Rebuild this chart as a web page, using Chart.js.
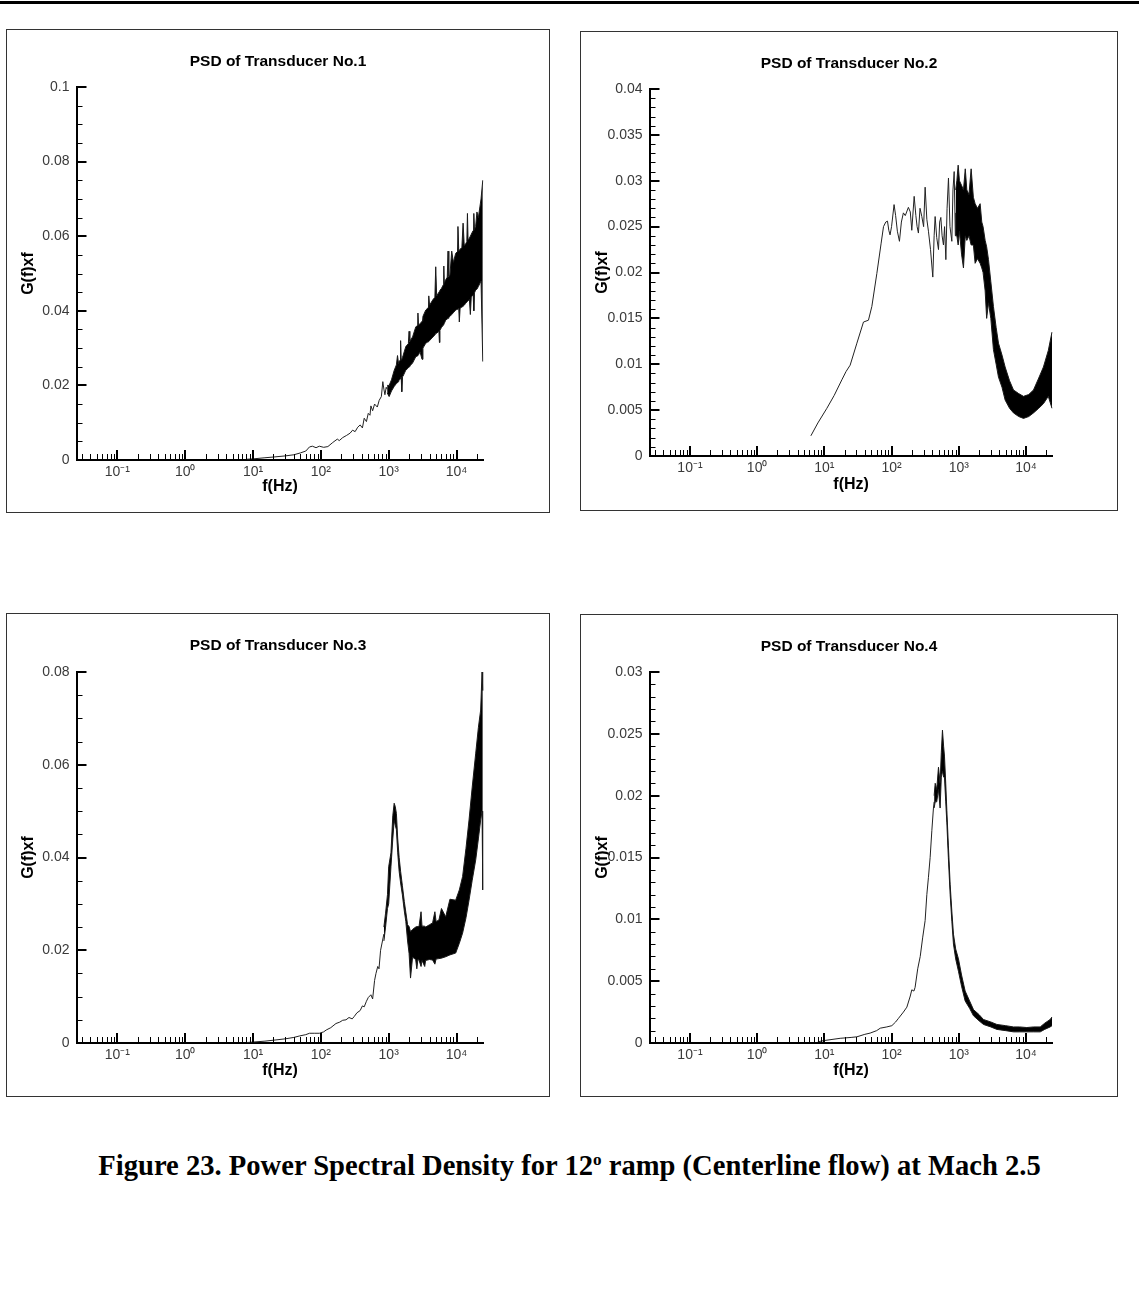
<!DOCTYPE html>
<html>
<head>
<meta charset="utf-8">
<script src="https://cdn.jsdelivr.net/npm/chart.js@4.4.1/dist/chart.umd.min.js"></script>
<style>
html,body{margin:0;padding:0;background:#fff;}
body{width:1139px;height:1289px;position:relative;overflow:hidden;font-family:'Liberation Sans',Arial,sans-serif;}
.topline{position:absolute;left:0;top:1px;width:1139px;height:3px;background:#000;}
.frame{position:absolute;border:1px solid #333;box-sizing:border-box;pointer-events:none;}
canvas{position:absolute;}
.caption{position:absolute;left:0;width:1139px;top:1150px;text-align:center;font-family:'Liberation Serif','Times New Roman',serif;font-weight:bold;font-size:28.6px;color:#000;white-space:nowrap;}
.caption sup{font-size:0.6em;vertical-align:0.6em;line-height:0;}
</style>
</head>
<body>
<div class="topline"></div>
<div class="caption">Figure 23. Power Spectral Density for 12<sup>o</sup> ramp (Centerline flow) at Mach 2.5</div>
<script>
// ---------- shared axis data ----------
const xTickValues = [0.1, 1, 10, 100, 1000, 10000];
const xTickLabels = ['10\u207B\u00B9', '10\u2070', '10\u00B9', '10\u00B2', '10\u00B3', '10\u2074'];
const xMin = 0.025, xMax = 25000;
const panelTitles = ['PSD of Transducer No.1', 'PSD of Transducer No.2', 'PSD of Transducer No.3', 'PSD of Transducer No.4'];
const xAxisTitle = 'f(Hz)';
const yAxisTitle = 'G(f)xf';

// ---------- Transducer No.1 ----------
const p1YTicks = [0, 0.02, 0.04, 0.06, 0.08, 0.1];
const p1Freq = [8, 10, 15, 20, 30, 40, 50, 60, 68, 75, 85, 95, 110, 127, 150, 175, 187, 210, 240, 270, 294, 320, 350, 380, 410, 436, 470, 500, 530, 547, 580, 620, 680, 725, 780, 820, 850, 880, 920, 950];
const p1Val  = [0.0002, 0.0003, 0.0006, 0.0008, 0.0011, 0.0014, 0.0019, 0.0024, 0.0035, 0.0037, 0.0033, 0.0037, 0.0034, 0.0036, 0.0047, 0.0056, 0.0052, 0.0060, 0.0066, 0.0072, 0.0080, 0.0076, 0.0088, 0.0094, 0.0086, 0.0112, 0.0103, 0.0125, 0.0120, 0.0145, 0.0132, 0.0150, 0.0142, 0.0160, 0.0170, 0.0210, 0.0190, 0.0175, 0.0195, 0.0190];
const p1BandFreq = [950, 1016, 1100, 1205, 1300, 1350, 1400, 1427, 1470, 1500, 1530, 1560, 1600, 1630, 1790, 1950, 2000, 2050, 2250, 2512, 2650, 2700, 2750, 2900, 3100, 3200, 3520, 3800, 3900, 4000, 4500, 4800, 4940, 5100, 5500, 5600, 5700, 6000, 6400, 6500, 6600, 6930, 7300, 7500, 7700, 8000, 8500, 9000, 9730, 10200, 10500, 10800, 11000, 11300, 12000, 12500, 13000, 13650, 14200, 14500, 14800, 15500, 16000, 16500, 17000, 17600, 18000, 18400, 19150, 20000, 21000, 23000, 24400];
const p1BandLo   = [0.0180, 0.0170, 0.0185, 0.0197, 0.0205, 0.0207, 0.0210, 0.0215, 0.0217, 0.0220, 0.0222, 0.0183, 0.0223, 0.0225, 0.0241, 0.0247, 0.0250, 0.0252, 0.0260, 0.0277, 0.0279, 0.0280, 0.0282, 0.0290, 0.0270, 0.0300, 0.0313, 0.0317, 0.0318, 0.0320, 0.0330, 0.0335, 0.0339, 0.0340, 0.0345, 0.0315, 0.0348, 0.0355, 0.0362, 0.0364, 0.0366, 0.0375, 0.0378, 0.0380, 0.0382, 0.0385, 0.0390, 0.0395, 0.0402, 0.0404, 0.0405, 0.0406, 0.0370, 0.0407, 0.0410, 0.0412, 0.0415, 0.0420, 0.0423, 0.0425, 0.0427, 0.0430, 0.0390, 0.0437, 0.0440, 0.0443, 0.0400, 0.0448, 0.0456, 0.0458, 0.0465, 0.0480, 0.0264];
const p1BandHi   = [0.0200, 0.0200, 0.0215, 0.0240, 0.0255, 0.0280, 0.0258, 0.0265, 0.0267, 0.0320, 0.0268, 0.0270, 0.0275, 0.0280, 0.0304, 0.0312, 0.0345, 0.0318, 0.0330, 0.0357, 0.0360, 0.0394, 0.0362, 0.0365, 0.0372, 0.0385, 0.0402, 0.0408, 0.0440, 0.0415, 0.0430, 0.0436, 0.0518, 0.0440, 0.0450, 0.0452, 0.0455, 0.0460, 0.0470, 0.0520, 0.0474, 0.0483, 0.0490, 0.0560, 0.0492, 0.0495, 0.0560, 0.0530, 0.0554, 0.0558, 0.0626, 0.0560, 0.0562, 0.0565, 0.0570, 0.0635, 0.0575, 0.0580, 0.0585, 0.0661, 0.0590, 0.0595, 0.0600, 0.0605, 0.0610, 0.0615, 0.0661, 0.0618, 0.0626, 0.0665, 0.0650, 0.0700, 0.0750];

// ---------- Transducer No.2 ----------
const p2YTicks = [0, 0.005, 0.01, 0.015, 0.02, 0.025, 0.03, 0.035, 0.04];
const p2Freq = [6.3, 8, 10.9, 14, 18.2, 21, 24.2, 30.5, 38.2, 45.3, 50.9, 60.4, 70, 75.9, 82, 87, 91, 95, 100, 109, 115, 122, 131, 140, 150, 160, 178, 190, 200, 217, 230, 240, 251, 265, 282, 300, 316, 335, 354, 380, 411, 430, 445, 470, 499, 520, 541, 565, 592, 615, 643, 670, 703, 740, 789, 820, 855, 890, 900];
const p2Val  = [0.0022, 0.0036, 0.0052, 0.0066, 0.0083, 0.0092, 0.0099, 0.0123, 0.0146, 0.0148, 0.0163, 0.0199, 0.0232, 0.0250, 0.0255, 0.0256, 0.0246, 0.0241, 0.0250, 0.0274, 0.0262, 0.0245, 0.0234, 0.0255, 0.0265, 0.0262, 0.0271, 0.0266, 0.0246, 0.0283, 0.0262, 0.0250, 0.0243, 0.0270, 0.0261, 0.0250, 0.0293, 0.0258, 0.0245, 0.0225, 0.0195, 0.0240, 0.0261, 0.0238, 0.0225, 0.0255, 0.0260, 0.0240, 0.0230, 0.0250, 0.0214, 0.0270, 0.0303, 0.0250, 0.0234, 0.0290, 0.0310, 0.0240, 0.0265];
const p2BandFreq = [900, 937, 980, 1024, 1100, 1175, 1250, 1318, 1420, 1528, 1650, 1753, 1900, 2080, 2200, 2300, 2470, 2600, 2770, 3000, 3280, 3600, 3900, 4400, 4900, 5700, 6520, 7800, 9190, 11000, 12950, 15500, 18200, 21500, 24400];
const p2BandLo   = [0.0240, 0.0240, 0.0230, 0.0245, 0.0220, 0.0205, 0.0240, 0.0235, 0.0240, 0.0230, 0.0230, 0.0210, 0.0215, 0.0210, 0.0205, 0.0200, 0.0180, 0.0150, 0.0167, 0.0150, 0.0116, 0.0100, 0.0086, 0.0075, 0.0061, 0.0052, 0.0047, 0.0043, 0.0041, 0.0043, 0.0047, 0.0052, 0.0057, 0.0065, 0.0052];
const p2BandHi   = [0.0290, 0.0300, 0.0317, 0.0300, 0.0295, 0.0290, 0.0313, 0.0290, 0.0285, 0.0313, 0.0282, 0.0275, 0.0270, 0.0275, 0.0255, 0.0250, 0.0235, 0.0228, 0.0214, 0.0190, 0.0163, 0.0140, 0.0123, 0.0110, 0.0097, 0.0082, 0.0072, 0.0068, 0.0065, 0.0067, 0.0072, 0.0085, 0.0097, 0.0115, 0.0135];

// ---------- Transducer No.3 ----------
const p3YTicks = [0, 0.02, 0.04, 0.06, 0.08];
const p3Freq = [8, 10, 15, 20, 30, 40, 48, 60, 68, 80, 95, 110, 120, 140, 167, 190, 210, 235, 260, 290, 310, 340, 380, 410, 436, 470, 500, 547, 580, 620, 650, 690, 720, 760, 815, 850];
const p3Val  = [0.0001, 0.0002, 0.0004, 0.0006, 0.0009, 0.0012, 0.0015, 0.0018, 0.0021, 0.0021, 0.0021, 0.0024, 0.0028, 0.0033, 0.0042, 0.0045, 0.0049, 0.0050, 0.0055, 0.0052, 0.0057, 0.0065, 0.0070, 0.0080, 0.0078, 0.0090, 0.0098, 0.0104, 0.0095, 0.0135, 0.0150, 0.0165, 0.0160, 0.0200, 0.0222, 0.0235];
const p3BandFreq = [850, 900, 960, 1000, 1080, 1150, 1205, 1250, 1300, 1360, 1427, 1500, 1590, 1700, 1790, 1900, 2000, 2100, 2250, 2500, 2600, 2700, 2800, 3000, 3100, 3400, 3500, 4000, 4440, 4800, 5000, 5500, 6000, 6930, 8000, 9730, 11000, 12300, 13800, 15300, 17000, 19200, 21000, 22700, 23800, 24400];
const p3BandLo   = [0.0220, 0.0250, 0.0290, 0.0300, 0.0380, 0.0440, 0.0480, 0.0470, 0.0460, 0.0410, 0.0370, 0.0345, 0.0320, 0.0285, 0.0262, 0.0220, 0.0193, 0.0140, 0.0185, 0.0180, 0.0160, 0.0180, 0.0179, 0.0165, 0.0178, 0.0165, 0.0178, 0.0180, 0.0179, 0.0170, 0.0181, 0.0182, 0.0183, 0.0186, 0.0190, 0.0194, 0.0215, 0.0237, 0.0270, 0.0308, 0.0350, 0.0395, 0.0440, 0.0481, 0.0500, 0.0330];
const p3BandHi   = [0.0250, 0.0280, 0.0320, 0.0380, 0.0410, 0.0490, 0.0517, 0.0510, 0.0495, 0.0440, 0.0400, 0.0370, 0.0340, 0.0305, 0.0282, 0.0255, 0.0251, 0.0240, 0.0245, 0.0250, 0.0251, 0.0251, 0.0251, 0.0283, 0.0252, 0.0252, 0.0250, 0.0255, 0.0259, 0.0283, 0.0262, 0.0265, 0.0290, 0.0272, 0.0310, 0.0308, 0.0330, 0.0359, 0.0420, 0.0481, 0.0550, 0.0625, 0.0680, 0.0718, 0.0800, 0.0760];

// ---------- Transducer No.4 ----------
const p4YTicks = [0, 0.005, 0.01, 0.015, 0.02, 0.025, 0.03];
const p4Freq = [8, 10, 17.2, 25, 30.5, 40, 48, 60, 68, 85, 101, 115, 127, 150, 169, 190, 200, 215, 224, 245, 267, 290, 316, 335, 354, 375, 398, 420, 430];
const p4Val  = [0.0001, 0.0002, 0.00038, 0.00045, 0.0005, 0.0007, 0.0008, 0.0010, 0.0012, 0.0013, 0.0014, 0.0017, 0.0020, 0.0025, 0.0029, 0.0038, 0.0043, 0.0042, 0.0045, 0.0060, 0.0070, 0.0085, 0.0099, 0.0120, 0.0134, 0.0150, 0.0172, 0.0190, 0.0195];
const p4BandFreq = [430, 446, 470, 499, 528, 550, 572, 595, 613, 640, 665, 700, 745, 790, 834, 900, 990, 1100, 1245, 1450, 1656, 2000, 2333, 3000, 3690, 5000, 6520, 8000, 10300, 13000, 16300, 19000, 22900, 24400];
const p4BandLo   = [0.0190, 0.0195, 0.0195, 0.0205, 0.0190, 0.0215, 0.0220, 0.0215, 0.0215, 0.0195, 0.0178, 0.0150, 0.0120, 0.0098, 0.0080, 0.0068, 0.0058, 0.0046, 0.0034, 0.0028, 0.0022, 0.0018, 0.0015, 0.0013, 0.0011, 0.0010, 0.0009, 0.0009, 0.0009, 0.0009, 0.0009, 0.0011, 0.0013, 0.0014];
const p4BandHi   = [0.0200, 0.0210, 0.0205, 0.0223, 0.0210, 0.0235, 0.0253, 0.0240, 0.0232, 0.0210, 0.0188, 0.0160, 0.0128, 0.0106, 0.0088, 0.0076, 0.0068, 0.0055, 0.0042, 0.0034, 0.0027, 0.0023, 0.0019, 0.0017, 0.0015, 0.0014, 0.0013, 0.0013, 0.00125, 0.0013, 0.0013, 0.0016, 0.0019, 0.0021];

// ---------- layout (positions / styles) ----------
const panels = [
  {title: panelTitles[0], left: 6,   top: 29,  w: 544, h: 484, area: {l: 70.5, r: 477.5, t: 58, b: 431}, freq: p1Freq, val: p1Val, bf: p1BandFreq, lo: p1BandLo, hi: p1BandHi, yTicks: p1YTicks, yStep: 0.005},
  {title: panelTitles[1], left: 580, top: 31,  w: 538, h: 480, area: {l: 69.5, r: 472.7, t: 58, b: 425}, freq: p2Freq, val: p2Val, bf: p2BandFreq, lo: p2BandLo, hi: p2BandHi, yTicks: p2YTicks, yStep: 0.001},
  {title: panelTitles[2], left: 6,   top: 613, w: 544, h: 484, area: {l: 70.5, r: 477.5, t: 59, b: 430}, freq: p3Freq, val: p3Val, bf: p3BandFreq, lo: p3BandLo, hi: p3BandHi, yTicks: p3YTicks, yStep: 0.005},
  {title: panelTitles[3], left: 580, top: 614, w: 538, h: 483, area: {l: 69.5, r: 472.7, t: 58, b: 429}, freq: p4Freq, val: p4Val, bf: p4BandFreq, lo: p4BandLo, hi: p4BandHi, yTicks: p4YTicks, yStep: 0.001}
];

const fam = "'Liberation Sans', Arial, sans-serif";
const tickFont = {family: fam, size: 14};
const tickColor = '#3a3a3a';

const inTicks = {
  id: 'inTicks',
  afterDraw(chart, args, opts) {
    const {ctx} = chart;
    const xs = chart.scales.x, ys = chart.scales.y;
    const yb = ys.getPixelForValue(0);
    const xl = xs.getPixelForValue(xs.min);
    ctx.save();
    ctx.strokeStyle = '#000';
    for (let d = -2; d <= 4; d++) {
      for (let k = 1; k <= 9; k++) {
        const v = k * Math.pow(10, d);
        if (v < xs.min || v > xs.max) continue;
        const major = k === 1;
        const px = Math.round(xs.getPixelForValue(v));
        ctx.lineWidth = major ? 2 : 1;
        ctx.beginPath();
        const x = major ? px : px + 0.5;
        ctx.moveTo(x, yb);
        ctx.lineTo(x, yb - (major ? 10 : 6));
        ctx.stroke();
      }
    }
    const step = opts.yStep;
    const n = Math.round(ys.max / step);
    for (let i = 1; i <= n; i++) {
      const v = i * step;
      const major = opts.yTicks.some(t => Math.abs(t - v) < step / 10);
      const py = Math.round(ys.getPixelForValue(v));
      ctx.lineWidth = major ? 2 : 1;
      ctx.beginPath();
      const y = major ? py : py + 0.5;
      ctx.moveTo(xl, y);
      ctx.lineTo(xl + (major ? 10 : 6), y);
      ctx.stroke();
    }
    ctx.restore();
  }
};

function pts(fs, vs) { return fs.map((f, i) => ({x: f, y: vs[i]})); }

panels.forEach(p => {
  const canvas = document.createElement('canvas');
  canvas.width = p.w; canvas.height = p.h;
  canvas.style.left = p.left + 'px'; canvas.style.top = p.top + 'px';
  canvas.style.width = p.w + 'px'; canvas.style.height = p.h + 'px';
  document.body.appendChild(canvas);
  const frame = document.createElement('div');
  frame.className = 'frame';
  frame.style.left = p.left + 'px'; frame.style.top = p.top + 'px';
  frame.style.width = p.w + 'px'; frame.style.height = p.h + 'px';
  document.body.appendChild(frame);

  const titleSize = 15.5;
  const titleLH = titleSize * 1.2;
  const titleTop = 32.5 - titleLH / 2;
  new Chart(canvas, {
    type: 'line',
    data: {
      datasets: [
        {data: pts(p.freq, p.val), borderColor: '#222', borderWidth: 1, pointRadius: 0, fill: false, tension: 0},
        {data: pts(p.bf, p.hi), borderColor: '#1a1a1a', borderWidth: 1, pointRadius: 0, fill: false, tension: 0},
        {data: pts(p.bf, p.lo), borderColor: '#1a1a1a', borderWidth: 1, pointRadius: 0, fill: '-1', backgroundColor: '#000', tension: 0}
      ]
    },
    options: {
      responsive: false, animation: false, devicePixelRatio: 1,
      layout: {padding: 0},
      plugins: {
        legend: {display: false},
        tooltip: {enabled: false},
        title: {display: true, text: p.title, color: '#000',
                font: {family: fam, size: titleSize, weight: 'bold', lineHeight: 1.2},
                padding: {top: titleTop, bottom: p.area.t - titleTop - titleLH}},
        inTicks: {yStep: p.yStep, yTicks: p.yTicks}
      },
      scales: {
        x: {
          type: 'logarithmic', min: xMin, max: xMax, position: 'bottom',
          grid: {display: false, drawTicks: false},
          border: {display: true, color: '#000', width: 2},
          afterBuildTicks: s => { s.ticks = xTickValues.map(v => ({value: v})); },
          afterFit: s => { s.height = p.h - p.area.b; },
          ticks: {
            autoSkip: false, maxRotation: 0, minRotation: 0, padding: 4,
            font: tickFont, color: tickColor,
            callback: (v) => { const i = xTickValues.findIndex(t => Math.abs(t - v) / t < 1e-6); return i >= 0 ? xTickLabels[i] : ''; }
          },
          title: {display: true, text: xAxisTitle, color: '#000',
                  font: {family: fam, size: 16, weight: 'bold', lineHeight: 1.2},
                  padding: {top: 0, bottom: 16.5}}
        },
        y: {
          min: 0, max: p.yTicks[p.yTicks.length - 1],
          grid: {display: false, drawTicks: false},
          border: {display: true, color: '#000', width: 2},
          afterBuildTicks: s => { s.ticks = p.yTicks.map(v => ({value: v})); },
          afterFit: s => { s.width = p.area.l; },
          ticks: {autoSkip: false, padding: 7, font: tickFont, color: tickColor,
                  callback: (v) => String(v)},
          title: {display: true, text: yAxisTitle, color: '#000',
                  font: {family: fam, size: 16, weight: 'bold', lineHeight: 1.2},
                  padding: {top: 12.5, bottom: 0}}
        },
        rightSpace: {
          position: 'right', display: true,
          grid: {display: false, drawTicks: false},
          border: {display: false},
          ticks: {display: false},
          afterFit: s => { s.width = p.w - p.area.r; }
        }
      }
    },
    plugins: [inTicks]
  });
});
</script>
</body>
</html>
